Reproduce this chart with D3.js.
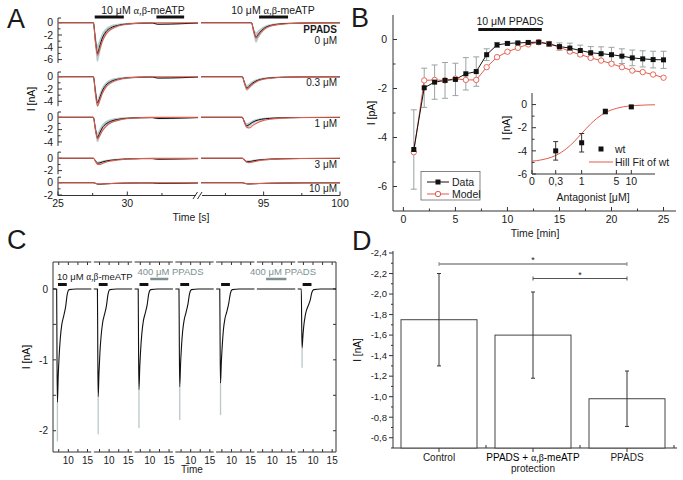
<!DOCTYPE html>
<html><head><meta charset="utf-8">
<script src="https://cdn.jsdelivr.net/npm/d3@7/dist/d3.min.js"></script>
<style>
html,body{margin:0;padding:0;background:#fff;}
svg{display:block;font-family:"Liberation Sans",Arial,Helvetica,sans-serif;}
</style></head><body>
<svg id="chart" width="683" height="480"></svg>
<script>
// ================= DATA =================
// ---- Panel A: current traces (nA) vs time (s) ----
const aConc = ["0 μM","0.3 μM","1 μM","3 μM","10 μM"];
const aYTickLabels = [[0,-2,-4,-6],[0,-2,-4],[0,-2,-4],[0,-2],[0,-2]];
const aTimeL  = [25,27.55,27.7,27.85,28.0,28.2,28.45,28.8,29.3,30.0,31.0,31.8,32.2,34.0,35.1];
const aTimeR0 = [90.9,94.2,94.35,94.5,94.65,94.85,95.1,95.45,96.0,96.8,98.1,100];
const aTimeR  = [90.9,93.6,93.75,93.9,94.05,94.25,94.5,94.85,95.4,96.2,97.5,100];
const aModelL = [
 [0,0,-3.2,-5.3,-4.4,-3.0,-1.9,-1.1,-0.55,-0.22,-0.06,-0.02,-0.02,-0.02,0],
 [0,0,-2.8,-4.75,-3.9,-2.7,-1.7,-1.0,-0.5,-0.2,-0.06,-0.02,-0.02,-0.02,0],
 [0,0,-2.0,-3.5,-3.0,-2.2,-1.5,-0.9,-0.5,-0.2,-0.06,-0.02,-0.02,-0.02,0],
 [0,0,-0.5,-0.95,-1.0,-0.85,-0.65,-0.45,-0.28,-0.12,-0.04,-0.02,-0.02,-0.02,0],
 [0,0,-0.1,-0.2,-0.22,-0.2,-0.17,-0.13,-0.09,-0.05,-0.02,-0.01,-0.01,-0.01,0]];
const aDataL = [
 [0,0,-2.8,-5.0,-3.9,-2.5,-1.5,-0.85,-0.45,-0.2,-0.08,-0.05,-0.25,-0.15,-0.05],
 [0,0,-2.4,-4.3,-3.5,-2.3,-1.4,-0.8,-0.42,-0.18,-0.08,-0.05,-0.22,-0.15,-0.05],
 [0,0,-1.9,-3.3,-2.6,-1.7,-1.1,-0.65,-0.35,-0.15,-0.07,-0.05,-0.2,-0.12,-0.05],
 [0,0,-0.4,-0.8,-0.75,-0.6,-0.45,-0.32,-0.2,-0.1,-0.05,-0.05,-0.15,-0.1,-0.05],
 [0,0,-0.1,-0.22,-0.25,-0.22,-0.18,-0.14,-0.1,-0.06,-0.04,-0.04,-0.1,-0.08,-0.04]];
const aSemL = [
 [0,0,0.6,1.3,1.0,0.7,0.5,0.35,0.2,0.1,0.05,0.03,0.05,0.05,0.02],
 [0,0,0.5,0.5,0.6,0.5,0.4,0.3,0.2,0.1,0.05,0.03,0.05,0.05,0.02],
 [0,0,0.4,0.7,0.6,0.5,0.4,0.3,0.2,0.1,0.05,0.03,0.05,0.05,0.02],
 [0,0,0.1,0.2,0.2,0.15,0.12,0.1,0.08,0.05,0.03,0.03,0.03,0.03,0.02],
 [0,0,0.03,0.05,0.05,0.05,0.04,0.04,0.03,0.02,0.02,0.02,0.02,0.02,0.02]];
const aModelR = [
 [0,0,-1.5,-2.5,-2.1,-1.5,-0.95,-0.55,-0.28,-0.12,-0.03,0],
 [0,0,-1.1,-2.0,-1.75,-1.3,-0.85,-0.5,-0.26,-0.1,-0.03,0],
 [0,0,-0.9,-1.6,-1.75,-1.4,-1.0,-0.62,-0.33,-0.13,-0.04,0],
 [0,0,-0.3,-0.6,-0.7,-0.62,-0.48,-0.33,-0.2,-0.09,-0.03,0],
 [0,0,-0.08,-0.15,-0.18,-0.17,-0.15,-0.12,-0.08,-0.05,-0.02,0]];
const aDataR = [
 [0,0,-1.3,-2.4,-1.9,-1.3,-0.8,-0.45,-0.22,-0.1,-0.04,-0.02],
 [0,0,-1.0,-1.85,-1.55,-1.1,-0.7,-0.4,-0.2,-0.09,-0.04,-0.02],
 [0,0,-0.8,-1.4,-1.2,-0.85,-0.55,-0.32,-0.17,-0.08,-0.04,-0.02],
 [0,0,-0.3,-0.55,-0.55,-0.45,-0.34,-0.23,-0.14,-0.07,-0.03,-0.02],
 [0,0,-0.1,-0.18,-0.2,-0.18,-0.15,-0.12,-0.09,-0.06,-0.03,-0.02]];
const aSemR = [
 [0,0,0.3,0.8,0.6,0.4,0.25,0.15,0.1,0.05,0.02,0.01],
 [0,0,0.2,0.4,0.35,0.3,0.2,0.12,0.08,0.04,0.02,0.01],
 [0,0,0.2,0.35,0.3,0.25,0.18,0.12,0.08,0.04,0.02,0.01],
 [0,0,0.08,0.15,0.15,0.12,0.1,0.07,0.05,0.03,0.02,0.01],
 [0,0,0.03,0.05,0.05,0.05,0.04,0.03,0.03,0.02,0.01,0.01]];
const aBarsL = [[27.65,29.75],[32.1,34.1]];
const aBarsR = [[94.7,96.6]];

// ---- Panel B: time course ----
const bTime  = [1,2,3,4,5,6,7,8,9,10,11,12,13,14,15,16,17,18,19,20,21,22,23,24,25];
const bData  = [-4.49,-1.97,-1.74,-1.67,-1.63,-1.4,-1.31,-0.62,-0.22,-0.16,-0.14,-0.12,-0.11,-0.18,-0.29,-0.35,-0.45,-0.54,-0.58,-0.62,-0.68,-0.75,-0.79,-0.82,-0.83];
const bErr   = [1.62,0.8,0.7,0.73,0.66,0.66,0.6,0.24,0.1,0.06,0.05,0.05,0.06,0.1,0.15,0.2,0.22,0.25,0.28,0.3,0.3,0.32,0.33,0.34,0.35];
const bModel = [-4.6,-1.67,-1.65,-1.67,-1.6,-1.65,-1.65,-1.13,-0.72,-0.5,-0.34,-0.2,-0.11,-0.18,-0.31,-0.49,-0.61,-0.75,-0.86,-0.99,-1.13,-1.27,-1.33,-1.43,-1.56];
const bXTicks = [0,5,10,15,20,25];
const bYTicks = [0,-2,-4,-6];
const bPpadsBar = [7.2,13.3];
// inset: dose response
const iConc = [0.3,1,3,10];
const iCurrent = [-4.0,-3.3,-0.6,-0.2];
const iErr = [0.8,0.8,0.2,0.1];
const iFitConc = [0.1,0.15,0.2,0.3,0.5,0.7,1,1.5,2,3,5,7,10,15,20,30];
const iFitI    = [-4.89,-4.79,-4.67,-4.40,-3.79,-3.22,-2.5,-1.69,-1.21,-0.70,-0.33,-0.19,-0.11,-0.06,-0.035,-0.018];
const iXTicks = [0.1,0.3,1,5,10];
const iXTickLabels = ["0","0,3","1","5","10"];
const iYTicks = [0,-2,-4,-6];

// ---- Panel C: repeated applications ----
const cSegments = ["s1","s2","s3","s4","s5","s6","s7"];
const cTime = [6,6.95,7.05,7.15,7.35,7.6,7.9,8.3,8.8,9.3,9.7,10.2,12,16];
const cBlack = [
 [0,0,-1.0,-1.6,-1.25,-0.95,-0.7,-0.5,-0.38,-0.25,-0.08,-0.01,0,0],
 [0,0,-0.95,-1.52,-1.2,-0.9,-0.67,-0.48,-0.36,-0.24,-0.08,-0.01,0,0],
 [0,0,-0.9,-1.42,-1.12,-0.85,-0.63,-0.45,-0.34,-0.22,-0.07,-0.01,0,0],
 [0,0,-0.85,-1.38,-1.08,-0.82,-0.6,-0.44,-0.33,-0.21,-0.07,-0.01,0,0],
 [0,0,-0.82,-1.33,-1.05,-0.8,-0.58,-0.42,-0.32,-0.2,-0.07,-0.01,0,0],
 [0,0,0,0,0,0,0,0,0,0,0,0,0,0],
 [0,0,-0.5,-0.83,-0.68,-0.52,-0.4,-0.3,-0.23,-0.15,-0.05,-0.01,0,0]];
const cGreyPeak = [-2.15,-2.05,-1.96,-1.85,-1.78,0,-1.11];
const cAgonistSegs = ["s1","s2","s3","s4","s5","s7"];
const cAgonistBar = [7.3,9.6];
const cPpadsBars = [["s3",10.1,14.8],["s6",8.4,13.7]];
const cXTicks = [10,15];
const cYTicks = [0,-1,-2];

// ---- Panel D: bar chart ----
const dCats = ["Control","PPADS + α,β-meATP|protection","PPADS"];
const dMean = [-1.75,-1.60,-0.98];
const dErr  = [0.45,0.42,0.27];
const dYTicks = [-2.4,-2.2,-2.0,-1.8,-1.6,-1.4,-1.2,-1.0,-0.8,-0.6];
const dSig = [[1,3],[2,3]];

// ================= DRAW =================
const svg = d3.select("#chart");
const RED = "#e35a4a", SEM = "#b3c8cc", GREYTXT = "#7e9190";
function L(g,x1,y1,x2,y2,stroke="#222",w=1){
  return g.append("line").attr("x1",x1).attr("y1",y1).attr("x2",x2).attr("y2",y2)
    .attr("stroke",stroke).attr("stroke-width",w);
}
function T(g,x,y,s,o={}){
  const t=g.append("text").attr("x",x).attr("y",y).text(s)
    .attr("font-size",o.size||10.5).attr("text-anchor",o.anchor||"start").attr("fill",o.fill||"#1a1a1a");
  if(o.weight) t.attr("font-weight",o.weight);
  return t;
}
function agonist(g,x,y,size,anchor,fill){
  const t=g.append("text").attr("x",x).attr("y",y).attr("font-size",size).attr("text-anchor",anchor).attr("fill",fill||"#1a1a1a");
  t.append("tspan").text("10 μM ");
  t.append("tspan").attr("font-family","'Liberation Serif','DejaVu Serif',serif").text("α,β");
  t.append("tspan").text("-meATP");
  return t;
}
// panel letters
[["A",7,28],["B",351,27],["C",7,249],["D",352,250]].forEach(([s,x,y])=>T(svg,x,y,s,{size:27}));

// ---------- Panel A ----------
const gA = svg.append("g");
const xAL = d3.scaleLinear().domain([25,35.1]).range([58,198]);
const xAR = d3.scaleLinear().domain([90.9,100]).range([201,340]);
const aZero = [22.7,76.7,117.3,158.3,182.7];
const aExt = [[0.76,-6.55],[0.76,-4.8],[0.86,-4.66],[1.0,-2.6],[0.9,-2.1]];
const AX0 = 58;
aConc.forEach((c,i)=>{
  const y = d3.scaleLinear().domain([0,-2]).range([aZero[i],aZero[i]+12.3]);
  L(gA,AX0,y(aExt[i][0]),AX0,y(aExt[i][1]),"#333",1);
  L(gA,AX0,y(aExt[i][0]),AX0+3,y(aExt[i][0]),"#333",1);
  for(let v=0; v>=aExt[i][1]; v--){ L(gA,AX0,y(v),AX0+(v%2===0?4:2.5),y(v),"#333",1); }
  aYTickLabels[i].forEach(v=>T(gA,53,y(v)+3.7,v===0?"0":String(v),{anchor:"end",size:10.5}));
  const segs = [[xAL,aTimeL,aModelL[i],aDataL[i],aSemL[i]],[xAR,i===0?aTimeR0:aTimeR,aModelR[i],aDataR[i],aSemR[i]]];
  segs.forEach(([xs,ts,m,d,s])=>{
    const area = d3.area().x((_,k)=>xs(ts[k])).y0((_,k)=>y(d[k]-s[k])).y1((_,k)=>y(d[k]+s[k])).curve(d3.curveMonotoneX);
    gA.append("path").attr("d",area(d)).attr("fill",SEM).attr("stroke",SEM).attr("stroke-width",0.8);
    const ln = (arr)=>d3.line().x((_,k)=>xs(ts[k])).y((_,k)=>y(arr[k])).curve(d3.curveMonotoneX)(arr);
    gA.append("path").attr("d",ln(d)).attr("fill","none").attr("stroke","#111").attr("stroke-width",1);
    gA.append("path").attr("d",ln(m)).attr("fill","none").attr("stroke",RED).attr("stroke-width",1.1);
  });
  T(gA,337,aZero[i]+(i===0?21:9.5),c,{anchor:"end",size:10});
});
T(gA,337,aZero[0]+10,"PPADS",{anchor:"end",size:10,weight:"bold"});
gA.append("text").attr("x",AX0-23).attr("y",99).attr("transform",`rotate(-90,${AX0-23},99)`)
  .attr("text-anchor","middle").attr("font-size",10.5).text("I [nA]");
// x axis
const AY = 195.5;
L(gA,58,AY,196,AY,"#333",1); L(gA,202,AY,340,AY,"#333",1);
[[xAL,[25,30],[27.5,32.5]],[xAR,[95,100],[92.5,97.5]]].forEach(([xs,maj,min])=>{
  maj.forEach(v=>{L(gA,xs(v),AY,xs(v),AY-4,"#333",1); T(gA,xs(v),AY+11,String(v),{anchor:"middle"});});
  min.forEach(v=>L(gA,xs(v),AY,xs(v),AY-2.5,"#333",1));
});
L(gA,193,AY+3.5,197.5,AY-3.5,"#333",1); L(gA,197.5,AY+3.5,202,AY-3.5,"#333",1);
T(gA,191,221,"Time [s]",{anchor:"middle"});
// application bars
aBarsL.forEach(b=>L(gA,xAL(b[0]),17,xAL(b[1]),17,"#111",3));
aBarsR.forEach(b=>L(gA,xAR(b[0]),17,xAR(b[1]),17,"#111",3));
agonist(gA,143,14,10.5,"middle");
agonist(gA,273,14,10.5,"middle");

// ---------- Panel B ----------
const gB = svg.append("g");
const xB = d3.scaleLinear().domain([-1,26.2]).range([393,676]);
const yB = d3.scaleLinear().domain([1,-7]).range([15,211]);
L(gB,393,15,393,211,"#333",1); L(gB,393,211,676,211,"#333",1);
bYTicks.forEach(v=>{L(gB,393,yB(v),397,yB(v),"#333",1); T(gB,387,yB(v)+3.7,String(v),{anchor:"end"});});
[-1,-3,-5].forEach(v=>L(gB,393,yB(v),395.5,yB(v),"#333",1));
bXTicks.forEach(v=>{L(gB,xB(v),211,xB(v),207,"#333",1); T(gB,xB(v),223,String(v),{anchor:"middle"});});
[2.5,7.5,12.5,17.5,22.5].forEach(v=>L(gB,xB(v),211,xB(v),208.5,"#333",1));
T(gB,535,237,"Time [min]",{anchor:"middle"});
gB.append("text").attr("x",375).attr("y",113).attr("transform","rotate(-90,375,113)")
  .attr("text-anchor","middle").attr("font-size",10.5).text("I [pA]");
// PPADS bar
L(gB,xB(bPpadsBar[0]),29.5,xB(bPpadsBar[1]),29.5,"#111",3);
T(gB,(xB(bPpadsBar[0])+xB(bPpadsBar[1]))/2,25,"10 μM PPADS",{anchor:"middle"});
// error bars
bTime.forEach((t,k)=>{
  const x=xB(t), y1=yB(bData[k]-bErr[k]), y2=yB(bData[k]+bErr[k]);
  L(gB,x,y1,x,y2,"#9aa3a3",1); L(gB,x-3,y1,x+3,y1,"#9aa3a3",1); L(gB,x-3,y2,x+3,y2,"#9aa3a3",1);
});
gB.append("path").attr("d",d3.line().x((_,k)=>xB(bTime[k])).y(v=>yB(v))(bModel)).attr("fill","none").attr("stroke",RED).attr("stroke-width",1);
gB.append("path").attr("d",d3.line().x((_,k)=>xB(bTime[k])).y(v=>yB(v))(bData)).attr("fill","none").attr("stroke","#111").attr("stroke-width",1);
gB.selectAll("circle.m").data(bModel).enter().append("circle").attr("cx",(_,k)=>xB(bTime[k])).attr("cy",v=>yB(v)).attr("r",2.7)
  .attr("fill","#fff").attr("stroke",RED).attr("stroke-width",0.9);
gB.selectAll("rect.d").data(bData).enter().append("rect").attr("x",(_,k)=>xB(bTime[k])-2.5).attr("y",v=>yB(v)-2.5)
  .attr("width",5).attr("height",5).attr("fill","#111");
// legend
gB.append("rect").attr("x",421).attr("y",171.5).attr("width",59).attr("height",28.5).attr("fill","#fff").attr("stroke","#666").attr("stroke-width",0.8);
L(gB,427,182,449,182,"#111",1); gB.append("rect").attr("x",435.5).attr("y",179.5).attr("width",5).attr("height",5).attr("fill","#111");
T(gB,452,185.5,"Data");
L(gB,427,194,449,194,RED,1); gB.append("circle").attr("cx",438).attr("cy",194).attr("r",2.7).attr("fill","#fff").attr("stroke",RED);
T(gB,452,197.5,"Model");
// inset
const xI = d3.scaleLog().domain([0.1,30]).range([532,655]);
const yI = d3.scaleLinear().domain([1,-6]).range([93,174]);
L(gB,532,93,532,174,"#333",1); L(gB,532,174,655,174,"#333",1);
iYTicks.forEach(v=>{L(gB,532,yI(v),536,yI(v),"#333",1); T(gB,527,yI(v)+3.7,String(v),{anchor:"end"});});
[-1,-3,-5].forEach(v=>L(gB,532,yI(v),534.5,yI(v),"#333",1));
iXTicks.forEach((v,k)=>{L(gB,xI(v),174,xI(v),170,"#333",1); T(gB,xI(v),185,iXTickLabels[k],{anchor:"middle"});});
T(gB,593,201,"Antagonist [μM]",{anchor:"middle"});
gB.append("text").attr("x",510).attr("y",128).attr("transform","rotate(-90,510,128)")
  .attr("text-anchor","middle").attr("font-size",10.5).text("I [nA]");
gB.append("path").attr("d",d3.line().x((_,k)=>xI(iFitConc[k])).y(v=>yI(v)).curve(d3.curveMonotoneX)(iFitI))
  .attr("fill","none").attr("stroke",RED).attr("stroke-width",1);
iConc.forEach((c,k)=>{
  const x=xI(c), y1=yI(iCurrent[k]-iErr[k]), y2=yI(iCurrent[k]+iErr[k]);
  L(gB,x,y1,x,y2,"#333",1); L(gB,x-2.5,y1,x+2.5,y1,"#333",1); L(gB,x-2.5,y2,x+2.5,y2,"#333",1);
  gB.append("rect").attr("x",x-2.5).attr("y",yI(iCurrent[k])-2.5).attr("width",5).attr("height",5).attr("fill","#111");
});
gB.append("rect").attr("x",598.5).attr("y",146.5).attr("width",5).attr("height",5).attr("fill","#111");
T(gB,615,153,"wt");
L(gB,589,162,613,162,RED,1);
T(gB,615,165.5,"Hill Fit of wt");

// ---------- Panel C ----------
const gC = svg.append("g");
const segX = d3.scaleBand().domain(cSegments).range([53,336]).paddingInner(0.06);
const yC = d3.scaleLinear().domain([0.38,-2.3]).range([262,452]);
const CT=262, CB=452;
L(gC,53,CT,53,CB,"#333",1); L(gC,336,CT,336,CB,"#333",1);
[0,-0.5,-1,-1.5,-2].forEach(v=>{L(gC,53,yC(v),56,yC(v),"#333",1); L(gC,336,yC(v),333,yC(v),"#333",1);});
cYTicks.forEach(v=>T(gC,48,yC(v)+3.7,String(v),{anchor:"end",size:10}));
gC.append("text").attr("x",30).attr("y",357).attr("transform","rotate(-90,30,357)")
  .attr("text-anchor","middle").attr("font-size",10.5).text("I [nA]");
cSegments.forEach((s,i)=>{
  const x0 = segX(s), x1 = x0+segX.bandwidth();
  const xs = d3.scaleLinear().domain([6,16]).range([x0,x1]);
  L(gC,x0,CT,x1,CT,"#333",1); L(gC,x0,CB,x1,CB,"#333",1);
  [7.5,10,12.5,15].forEach(v=>{L(gC,xs(v),CT,xs(v),CT+3,"#333",1); L(gC,xs(v),CB,xs(v),CB-3,"#333",1);});
  cXTicks.forEach(v=>T(gC,xs(v),463.5,String(v),{anchor:"middle",size:10}));
  if(cGreyPeak[i]!==0) L(gC,xs(cTime[3]),yC(cBlack[i][3]),xs(cTime[3]),yC(cGreyPeak[i]),"#b9c7c9",1.3);
  gC.append("path").attr("d",d3.line().x((_,k)=>xs(cTime[k])).y(v=>yC(v)).curve(d3.curveMonotoneX)(cBlack[i]))
    .attr("fill","none").attr("stroke","#111").attr("stroke-width",1.1);
  if(cAgonistSegs.includes(s)) L(gC,xs(cAgonistBar[0]),284.5,xs(cAgonistBar[1]),284.5,"#111",3);
});
cPpadsBars.forEach(([s,t0,t1])=>{
  const xs = d3.scaleLinear().domain([6,16]).range([segX(s),segX(s)+segX.bandwidth()]);
  L(gC,xs(t0),279,xs(t1),279,"#7e9190",2.5);
});
agonist(gC,57,280,9.5,"start");
T(gC,137.5,275,"400 μM PPADS",{size:9.5,fill:GREYTXT});
T(gC,250,275,"400 μM PPADS",{size:9.5,fill:GREYTXT});
T(gC,192,473,"Time",{anchor:"middle",size:10});

// ---------- Panel D ----------
const gD = svg.append("g");
const xD = d3.scaleLinear().domain([0.5,3.5]).range([392,674]);
const yD = d3.scaleLinear().domain([-2.4,-0.5]).range([253,448]);
L(gD,393,251,393,448,"#333",1); L(gD,393,448,677,448,"#333",1);
dYTicks.forEach(v=>{L(gD,393,yD(v),389,yD(v),"#333",1);
  T(gD,387,yD(v)+3.3,d3.format(".1f")(v).replace(".",",").replace("−","-"),{anchor:"end",size:9.5});});
d3.range(-2.3,-0.5,0.2).forEach(v=>L(gD,393,yD(v),391,yD(v),"#333",1));
L(gD,393,yD(-0.5),391,yD(-0.5),"#333",1);
gD.append("text").attr("x",361).attr("y",350).attr("transform","rotate(-90,361,350)")
  .attr("text-anchor","middle").attr("font-size",10).text("I [nA]");
[1.5,2.5,3.5].forEach(v=>L(gD,xD(v),448,xD(v),445,"#333",1));
dCats.forEach((c,k)=>{
  const cx = xD(k+1), bw = 76;
  L(gD,cx,448,cx,452,"#333",1);
  gD.append("rect").attr("x",cx-bw/2).attr("y",yD(dMean[k])).attr("width",bw).attr("height",yD(-0.5)-yD(dMean[k]))
    .attr("fill","#fff").attr("stroke","#444").attr("stroke-width",1);
  const y1=yD(dMean[k]-dErr[k]), y2=yD(dMean[k]+dErr[k]);
  L(gD,cx,y1,cx,y2,"#333",1); L(gD,cx-2,y1,cx+2,y1,"#333",1); L(gD,cx-2,y2,cx+2,y2,"#333",1);
  const parts = c.split("|");
  if(parts[0].includes("α,β")){
    const t=gD.append("text").attr("x",cx).attr("y",461).attr("font-size",10).attr("text-anchor","middle");
    t.append("tspan").text("PPADS + ");
    t.append("tspan").attr("font-family","'Liberation Serif','DejaVu Serif',serif").text("α,β");
    t.append("tspan").text("-meATP");
  } else T(gD,cx,461,parts[0],{anchor:"middle",size:10});
  if(parts[1]) T(gD,cx,472,parts[1],{anchor:"middle",size:10});
});
const sigY = [264,278.5];
dSig.forEach(([a,b],k)=>{
  const col = k===0?"#8a8a8a":"#555", w = k===0?1.6:1;
  L(gD,xD(a),sigY[k],xD(b),sigY[k],col,w);
  L(gD,xD(a),sigY[k]-2,xD(a),sigY[k]+2,col,1); L(gD,xD(b),sigY[k]-2,xD(b),sigY[k]+2,col,1);
  T(gD,(xD(a)+xD(b))/2,sigY[k]-1,"*",{anchor:"middle",size:9});
});
</script></body></html>
